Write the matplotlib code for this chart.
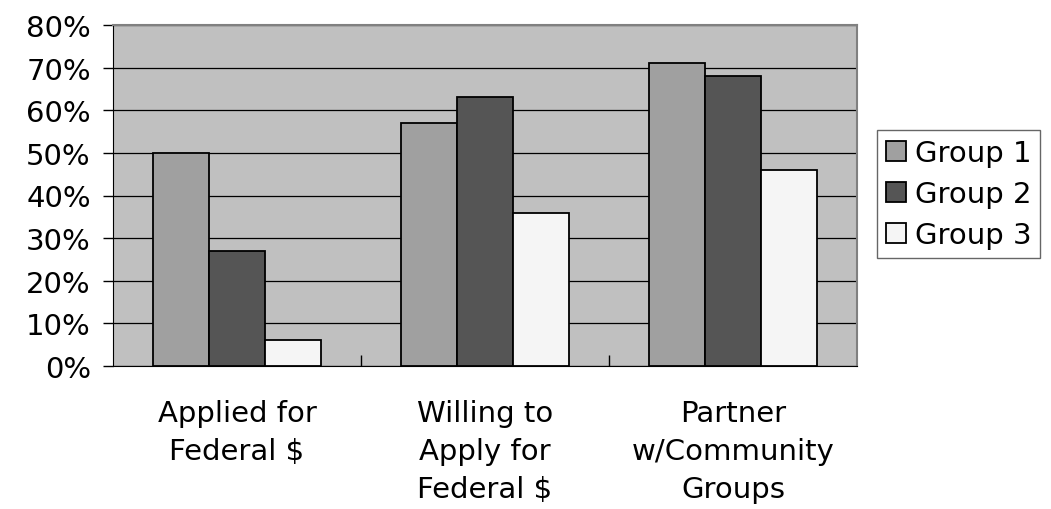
import matplotlib.pyplot as plt
import numpy as np

# values (percent)
categories = ["Applied for\nFederal $", "Willing to\nApply for\nFederal $", "Partner\nw/Community\nGroups"]
group1 = [50, 57, 71]
group2 = [27, 63, 68]
group3 = [6, 36, 46]
series_names = ["Group 1", "Group 2", "Group 3"]
yticks = [0, 10, 20, 30, 40, 50, 60, 70, 80]

colors = ["#A0A0A0", "#555555", "#F5F5F5"]

plt.rcParams['font.family'] = ['DejaVu Sans']

fig = plt.figure(figsize=(10.51, 5.10), dpi=100)
ax = fig.add_axes([113/1051, 1-367/510, (857-113)/1051, (367-26)/510])
ax.set_facecolor("#C0C0C0")

x = np.arange(len(categories))
w = 0.225
for i, (vals, name) in enumerate(zip([group1, group2, group3], series_names)):
    ax.bar(x + (i-1)*w, vals, width=w, color=colors[i], edgecolor="black",
           linewidth=1.3, label=name, zorder=3)

ax.set_xlim(-0.5, 2.5)
ax.set_ylim(0, 80)
ax.set_yticks(yticks)
ax.set_yticklabels([f"{v}%" for v in yticks], fontsize=21)
ax.yaxis.grid(True, color="black", linewidth=0.9, zorder=1)
ax.tick_params(axis='y', direction='out', length=7, width=1, pad=9)

# category tick marks between groups, labels centred under groups
ax.set_xticks([0.5, 1.5], minor=False)
ax.set_xticklabels([])
ax.tick_params(axis='x', which='major', direction='in', length=8, width=1)
ax.set_xticks(x, minor=True)
ax.set_xticklabels(categories, minor=True, fontsize=21, linespacing=1.45)
ax.tick_params(axis='x', which='minor', length=0, pad=24)

for s in ["top", "right"]:
    ax.spines[s].set_color("#808080")
    ax.spines[s].set_linewidth(1.5)
ax.spines["left"].set_color("black")
ax.spines["bottom"].set_color("black")

leg = ax.legend(loc="center left", bbox_to_anchor=(1.027, 0.504), fontsize=21,
                frameon=True, fancybox=False, edgecolor="#404040",
                handlelength=0.7, handleheight=0.7, handletextpad=0.3,
                borderaxespad=0, labelspacing=0.45, borderpad=0.3)
leg.get_frame().set_linewidth(1)

fig.savefig("out.png", dpi=100)
